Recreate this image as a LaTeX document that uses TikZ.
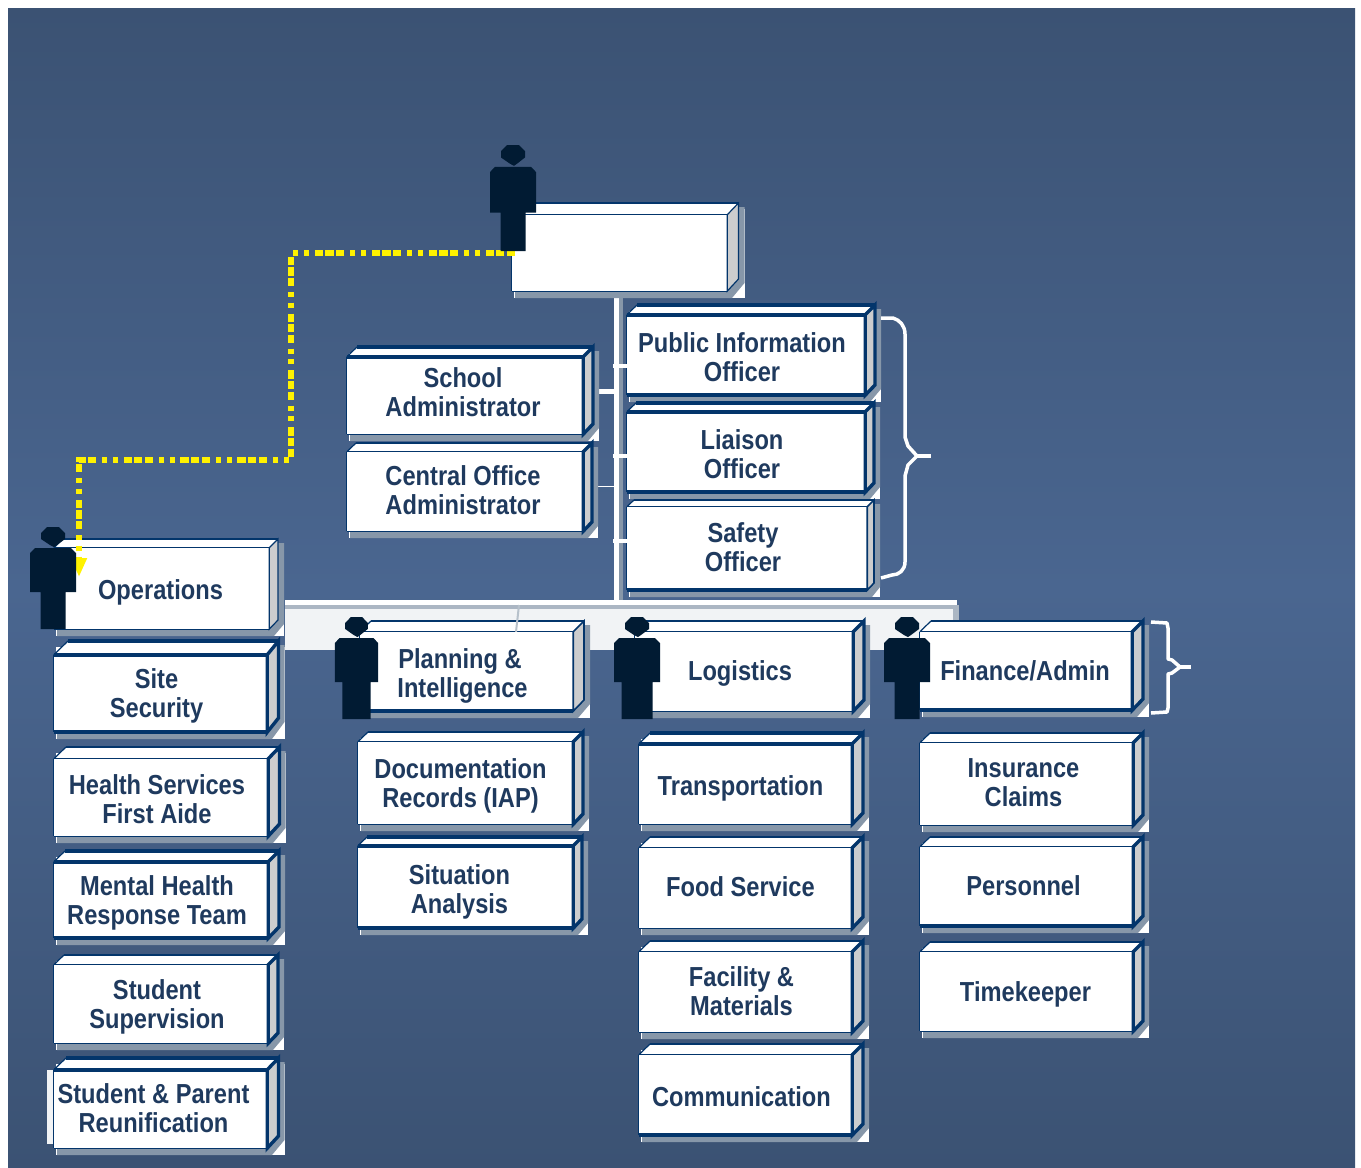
\documentclass[tikz,border=0pt]{standalone}
\usepackage{fontspec}
\setmainfont[FakeStretch=0.86]{Liberation Sans}
\usetikzlibrary{
    arrows.meta,
    calc,
    positioning
}
\definecolor{bgedge}{HTML}{3B5273}
\definecolor{bgmid}{HTML}{4A6690}
\definecolor{navy}{HTML}{03356B}
\definecolor{labelblue}{HTML}{1F3A5E}
\definecolor{figure}{HTML}{011B33}
\definecolor{shadowgrey}{HTML}{8797A9}
\definecolor{sidegrey}{HTML}{CCCDCE}
\definecolor{bandwhite}{HTML}{F1F3F5}
\tikzset{
    unitface/.style={fill=white, inner sep=0pt},
    unitlabel/.style={inner sep=0pt, align=center, text=labelblue,
        font=\fontsize{27.5}{29}\selectfont\bfseries},
    plainface/.code={\def\rightw{1.2pt}},
    thinface/.code={},
    topface/.code={\def\topw{4pt}},
    botface/.code={\def\botw{4pt}\def\rightw{1.6pt}},
    lowface/.code={\def\botw{4pt}},
    thickface/.code={\def\topw{4pt}\def\botw{4pt}},
    nudge/.code 2 args={\def\nudgex{#1}\def\nudgey{#2}},
    brace/.style={draw=white, line width=3.5pt, line join=round},
    trunk/.style={draw=white, line width=5pt},
    pics/person/.style={code={
        \fill[figure] (-6,0) -- (6,0) -- (12,6) -- (12,12) -- (4,18) -- (1,20) -- (-3,18) -- (-12,12) -- (-12,6) -- cycle;
        \fill[figure] (-18,21) -- (18,21) -- (23,26) -- (23,65) -- (#1,65) -- (#1,102) -- (-#1,102) -- (-#1,65) -- (-23,65) -- (-23,26) -- cycle;
    }}
}
\newcommand{\unitbox}[8]{
    \def\topw{1.3pt}\def\botw{1.3pt}\def\rightw{3.4pt}\def\nudgex{-4}\def\nudgey{2}
    \tikzset{#7}
    \pgfmathsetmacro{\depth}{#3-#6}
    \pgfmathsetmacro{\backx}{#4+min(\depth,11.5)}
    \pgfmathsetmacro{\shadx}{\backx+6}
    \pgfmathsetmacro{\shady}{#5+7}
    \pgfmathsetmacro{\cenx}{(#2+#4)/2}
    \pgfmathsetmacro{\ceny}{(#3+#5)/2}
    \pgfmathsetmacro{\wid}{#4-#2}
    \pgfmathsetmacro{\hei}{#5-#3}
    \fill[white] (#2+2,#6+6) rectangle (\shadx,\shady);
    \fill[shadowgrey] (#2+3,#5) -- (#4,#5) -- (\backx,#5-\depth) -- (\backx,#6+4) -- (\shadx,#6+4) -- (\shadx,#5-\depth+4) -- (#4+5,\shady) -- (#2+3,\shady) -- cycle;
    \fill[sidegrey] (#4,#3) -- (\backx,#6) -- (\backx,#5-\depth) -- (#4,#5) -- cycle;
    \fill[white] (#2,#3) -- (#2+\depth,#6) -- (\backx,#6) -- (#4,#3) -- cycle;
    \node[unitface, minimum width=\wid pt, minimum height=\hei pt] (#1) at (\cenx,\ceny) {};
    \draw[navy, line width=1.2pt] (#1.north west) -- (#1.south west);
    \draw[navy, line width=1.2pt] (#1.north west) -- (#2+\depth,#6);
    \draw[navy, line width=\rightw, line cap=round] (#1.north east) -- (\backx,#6) -- (\backx,#5-\depth) -- (#1.south east) -- cycle;
    \draw[navy, line width=\topw] (#1.north west) -- (#1.north east);
    \draw[navy, line width=\topw] (#2+\depth,#6) -- (\backx,#6);
    \draw[navy, line width=\botw] (#1.south west) -- (#1.south east);
    \node[unitlabel] (#1label) at (\cenx+\nudgex,\ceny+\nudgey) {#8};
}
\begin{document}
\begin{tikzpicture}[x=1pt, y=-1pt]
    \useasboundingbox (0,0) rectangle (1361,1168);
    \shade[top color=bgedge, bottom color=bgedge, middle color=bgmid] (8,8) rectangle (1355,1168);

    \node[fill=bandwhite, inner sep=0pt, minimum width=672pt, minimum height=49pt] (band) at (621,625) {};
    \fill[white] (band.north west) rectangle ($(band.north east)+(0,5)$);
    \fill[shadowgrey!70] ($(band.north west)+(0,5)$) rectangle ($(band.north east)+(-4,9)$);
    \fill[shadowgrey!70] ($(band.north east)+(-4,5)$) rectangle ($(band.north east)+(2,24)$);

    \coordinate (trunktop) at (616.5,296);
    \coordinate (trunkbot) at (616.5,600);
    \draw[shadowgrey, line width=4pt] ($(trunktop)+(4.5,0)$) -- ($(trunkbot)+(4.5,0)$);
    \draw[trunk] (trunktop) -- (trunkbot);
    \coordinate (schoolport) at (592,391);
    \coordinate (centralport) at (592,486);
    \draw[trunk] (schoolport) -- (schoolport -| trunktop);
    \draw[white, line width=1pt] (centralport) -- (centralport -| trunktop);

    \unitbox{chief}{512}{215}{727}{291}{203}{plainface}{}
    \unitbox{school}{347}{357}{583}{434}{347}{topface, nudge={-2}{-3}}{School\\Administrator}
    \unitbox{central}{347}{452}{583}{531}{443}{thinface, nudge={-2}{-1}}{Central Office\\Administrator}
    \unitbox{pio}{627}{315}{865}{395}{305}{thickface}{Public Information\\Officer}
    \unitbox{liaison}{627}{412}{865}{492}{403}{thickface}{Liaison\\Officer}
    \unitbox{safety}{627}{507}{867}{590}{500}{botface, nudge={-4}{-1}}{Safety\\Officer}

    \coordinate (tickpio) at (613,366);
    \coordinate (tickliaison) at (613,456);
    \coordinate (ticksafety) at (613,541);
    \draw[white, line width=4pt] (tickpio) -- (tickpio -| pio.west);
    \draw[white, line width=4pt] (tickliaison) -- (tickliaison -| liaison.west);
    \draw[white, line width=4pt] (ticksafety) -- (ticksafety -| safety.west);

    \unitbox{ops}{54}{548}{269}{629}{539}{plainface, nudge={-1}{4}}{Operations}
    \unitbox{site}{54}{655}{267}{732}{641}{thickface}{Site\\Security}
    \unitbox{health}{54}{759}{268}{836}{747}{thinface}{Health Services\\First Aide}
    \unitbox{mental}{54}{862}{268}{938}{851}{thickface, nudge={-4}{3}}{Mental Health\\Response Team}
    \unitbox{supervision}{54}{965}{268}{1043}{955}{thinface, nudge={-4}{3}}{Student\\Supervision}
    \fill[bandwhite] (47,1070) rectangle (56,1144);
    \unitbox{reunify}{54}{1070}{267}{1148}{1058}{topface, nudge={-7}{-1}}{Student \& Parent\\Reunification}

    \unitbox{planning}{360}{632}{573}{711}{621}{botface, nudge={-4}{4.5}}{Planning \&\hspace*{5pt}\\Intelligence}
    \unitbox{docs}{358}{742}{573}{824}{732}{thinface, nudge={-5}{2.5}}{Documentation\\Records (IAP)}
    \unitbox{situation}{358}{846}{573}{928}{837}{thickface, nudge={-6}{4.5}}{Situation\\Analysis}

    \unitbox{logistics}{635}{632}{853}{711}{621}{thinface}{Logistics}
    \unitbox{transport}{639}{744}{852}{824}{733}{topface, nudge={-5}{4}}{Transportation}
    \unitbox{food}{639}{848}{852}{928}{837}{thinface, nudge={-5}{-1}}{Food Service}
    \unitbox{facility}{639}{952}{852}{1032}{941}{thinface, nudge={-4}{-1}}{Facility \&\\Materials}
    \unitbox{comms}{639}{1055}{852}{1135}{1044}{lowface}{Communication}

    \unitbox{finance}{920}{632}{1132}{710}{621}{lowface, nudge={-1}{0}}{Finance/Admin}
    \unitbox{insurance}{920}{743}{1133}{825}{733}{thinface, nudge={-3}{-1}}{Insurance\\Claims}
    \unitbox{personnel}{920}{847}{1133}{926}{837}{lowface, nudge={-3}{-1}}{Personnel}
    \unitbox{timekeeper}{920}{952}{1133}{1031}{942}{thinface, nudge={-1}{3}}{Timekeeper}

    \coordinate (planport) at (519,605);
    \draw[shadowgrey!60, line width=2pt] (planport) -- (planning.north -| 516,650);

    \coordinate (cmdport) at (515,253);
    \coordinate (opsport) at (79,577);
    \draw[yellow, line width=5.5pt, dash pattern=on 8.3pt off 2.3pt on 8.3pt off 2.3pt on 8.3pt off 5.7pt on 5pt off 5.7pt on 5pt off 6pt,
        -{Triangle[length=19pt, width=15pt]}]
        (cmdport) -- (291,253) -- (291,460) -- (79,460) -- (opsport);

    \draw[brace] (881,318) -- (893,318) .. controls (900,320) and (905,326) .. (905,334) -- (905,437)
        -- (908,446) -- (917,456) -- (908,465) -- (905,476) -- (905,562)
        .. controls (905,570) and (899,575) .. (892,575) -- (881,578);
    \draw[brace] (917,456) -- (931,456);
    \draw[brace] (1151,622) -- (1167,623) -- (1168,628) -- (1168,659) -- (1172,660) -- (1180,667)
        -- (1172,673) -- (1168,674) -- (1168,708) -- (1167,712) -- (1151,713);
    \draw[brace] (1180,667) -- (1191,667);

    \pic[yscale=1.04] at (513,145) {person=12.5};
    \pic at (53,527) {person=12.5};
    \pic[xscale=.94] at (356.5,617) {person=15};
    \pic at (637,617) {person=15.5};
    \pic at (907,617) {person=12.5};
\end{tikzpicture}
\end{document}
